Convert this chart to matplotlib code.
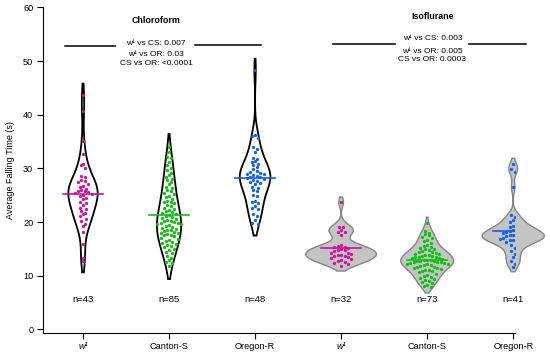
import numpy as np
import matplotlib.pyplot as plt

plt.rcParams['font.family'] = ['Liberation Sans', 'DejaVu Sans']

# falling times (s)
chl_w1 = [43.6, 40.6, 35.1, 32.6, 30.8, 30.6, 30.1, 28.6, 28.3, 27.9, 27.6, 27.4, 27.1,
          26.8, 26.5, 26.2, 26.0, 25.8, 25.7, 25.5, 25.4, 25.3, 25.1, 24.9, 24.5, 24.2,
          23.8, 23.5, 23.1, 22.7, 22.4, 22.0, 21.7, 21.4, 21.1, 20.5, 20.1, 19.7, 19.2,
          18.1, 15.9, 13.2, 12.8]
chl_cs = [34.0, 33.0, 32.2, 31.9, 31.2, 30.6, 30.0, 29.7, 29.2, 28.8, 28.4, 28.1, 27.8,
          27.4, 27.0, 26.6, 26.3, 26.0, 25.7, 25.4, 25.2, 24.9, 24.6, 24.3, 24.0, 23.8,
          23.7, 23.5, 23.2, 23.0, 22.7, 22.4, 22.2, 22.0, 21.9, 21.7, 21.5, 21.3, 21.2,
          21.0, 20.8, 20.6, 20.4, 20.2, 20.1, 20.0, 19.9, 19.8, 19.7, 19.6, 19.4, 19.3,
          19.1, 18.9, 18.7, 18.6, 18.5, 18.4, 18.2, 18.0, 17.9, 17.7, 17.6, 17.5, 17.3,
          17.1, 16.9, 16.7, 16.5, 16.3, 16.1, 15.9, 15.7, 15.5, 15.3, 15.0, 14.8, 14.5,
          14.2, 13.6, 13.2, 12.9, 12.6, 12.3, 11.8]
chl_or = [48.3, 36.3, 36.1, 35.6, 34.0, 33.6, 33.1, 32.0, 31.8, 31.4, 31.2, 30.9, 30.6,
          30.3, 29.8, 29.5, 29.3, 29.1, 29.0, 28.9, 28.7, 28.5, 28.4, 28.3, 28.2, 28.1,
          27.8, 27.6, 27.4, 27.2, 27.0, 26.6, 26.3, 26.0, 25.7, 25.1, 24.9, 24.0, 23.8,
          23.6, 23.0, 22.7, 22.5, 21.4, 21.1, 20.4, 19.9, 19.6]
iso_w1 = [23.7, 19.1, 19.0, 18.6, 18.2, 18.1, 17.6, 15.8, 15.6, 15.4, 15.3, 15.2, 14.9,
          14.8, 14.7, 14.6, 14.3, 14.2, 14.1, 13.9, 13.8, 13.7, 13.6, 13.4, 13.3, 13.1,
          12.9, 12.8, 12.6, 12.4, 12.2, 11.8]
iso_cs = [19.8, 18.3, 18.0, 17.7, 17.5, 17.2, 17.0, 16.7, 16.4, 16.0, 15.8, 15.6, 15.4,
          15.2, 15.0, 14.9, 14.8, 14.6, 14.5, 14.4, 14.2, 14.1, 14.0, 13.9, 13.8, 13.7,
          13.6, 13.5, 13.5, 13.4, 13.3, 13.2, 13.1, 13.0, 13.0, 12.9, 12.8, 12.8, 12.7,
          12.6, 12.6, 12.5, 12.4, 12.3, 12.2, 12.2, 12.1, 12.0, 11.9, 11.8, 11.7, 11.6,
          11.5, 11.4, 11.3, 11.1, 11.0, 10.9, 10.8, 10.6, 10.4, 10.2, 10.0, 9.8, 9.6,
          9.4, 9.2, 9.0, 8.8, 8.6, 8.3, 8.1, 7.9]
iso_or = [30.9, 29.8, 29.4, 26.5, 21.3, 21.0, 20.4, 20.0, 19.6, 19.3, 19.0, 18.8, 18.6,
          18.4, 18.3, 18.2, 18.0, 17.9, 17.8, 17.6, 17.5, 17.4, 17.3, 17.2, 17.1, 17.0,
          16.9, 16.8, 16.7, 16.6, 16.5, 16.3, 16.0, 15.7, 15.2, 14.6, 14.0, 13.4, 12.8,
          12.2, 11.7]

groups = [chl_w1, chl_cs, chl_or, iso_w1, iso_cs, iso_or]
labels = ['w¹', 'Canton-S', 'Oregon-R', 'w¹', 'Canton-S', 'Oregon-R']
colors = ['#d0109c', '#10c010', '#1060f0'] * 2

fig = plt.figure(figsize=(5.5, 3.56), dpi=100)
ax = fig.add_axes([0.0782, 0.0654, 0.858, 0.914])
ax.set_xlim(0.535, 6.02)
ax.set_ylim(-0.63, 60)

# pixels per data unit, used for the dot layout
xpx = 0.858 * 550 / (6.02 - 0.535)
ypx = 0.914 * 356 / 60.63


def kde(v, grid, bw):
    z = (grid[:, None] - v[None, :]) / bw
    return np.exp(-0.5 * z ** 2).sum(1) / (len(v) * bw * np.sqrt(2 * np.pi))


def dots(v, row=5.0, dx=3.4):
    # bin values into rows a few pixels high, spread each row sideways from the middle
    b = np.floor(v * ypx / row).astype(int)
    xs = np.zeros(len(v))
    for key in np.unique(b):
        idx = np.where(b == key)[0]
        n = len(idx)
        slots = (np.arange(n) - (n - 1) / 2) * dx
        slots = slots[np.argsort(np.abs(slots), kind='stable')]
        xs[idx] = slots
    return xs / xpx


shapes = []
for v in groups:
    v = np.array(v)
    q75, q25 = np.percentile(v, [75, 25])
    bw = 1.1 * min(v.std(ddof=1), (q75 - q25) / 1.34) * len(v) ** -0.2
    grid = np.linspace(v.min() - bw, v.max() + bw, 300)
    shapes.append((grid, kde(v, grid, bw)))
k = 0.41 / max(d.max() for g, d in shapes)

for i, v in enumerate(groups):
    pos = i + 1
    v = np.array(v)
    grid, dens = shapes[i]
    w = dens * k
    xs = np.concatenate([pos - w, (pos + w)[::-1]])
    ys = np.concatenate([grid, grid[::-1]])
    if i < 3:
        ax.fill(xs, ys, facecolor='white', edgecolor='black', lw=1.3, zorder=2, clip_on=False)
    else:
        ax.fill(xs, ys, facecolor='#c4c4c4', edgecolor='#858585', lw=1.0, zorder=2, clip_on=False)
    ax.scatter(pos + dots(v), v, s=5.5, color=colors[i], lw=0, zorder=3)
    m = v.mean()
    ax.plot([pos - 0.23, pos + 0.23], [m, m], color=colors[i], lw=1.2, zorder=4)
    ax.text(pos, 5.6, 'n=%d' % len(v), ha='center', va='center', fontsize=6.8)

# treatment headers and p-values
ax.text(1.85, 57.5, 'Chloroform', ha='center', va='center', fontsize=6.4, fontweight='bold')
ax.text(5.06, 58.2, 'Isoflurane', ha='center', va='center', fontsize=6.4, fontweight='bold')
ax.plot([0.79, 1.37], [52.85, 52.85], color='black', lw=1.1, clip_on=False)
ax.plot([2.30, 3.07], [52.95, 52.95], color='black', lw=1.1, clip_on=False)
ax.plot([3.90, 4.63], [53.15, 53.15], color='black', lw=1.1, clip_on=False)
ax.plot([5.49, 6.15], [53.25, 53.25], color='black', lw=1.1, clip_on=False)
for y, s in zip([53.3, 51.2, 49.5], ['w¹ vs CS: 0.007', 'w¹ vs OR: 0.03', 'CS vs OR: <0.0001']):
    ax.text(1.85, y, s, ha='center', va='center', fontsize=6.0)
for y, s in zip([54.1, 51.8, 50.2], ['w¹ vs CS: 0.003', 'w¹ vs OR: 0.005', 'CS vs OR: 0.0003']):
    ax.text(5.06, y, s, ha='center', va='center', fontsize=6.0)

ax.spines['top'].set_visible(False)
ax.spines['right'].set_visible(False)
ax.spines['left'].set_linewidth(0.8)
ax.spines['bottom'].set_linewidth(0.8)
ax.set_yticks(np.arange(0, 61, 10))
ax.set_xticks(np.arange(1, 7))
ax.set_xticklabels(labels)
for t in ax.get_xticklabels():
    if t.get_text().startswith('w'):
        t.set_fontstyle('italic')
ax.tick_params(axis='both', direction='out', length=4, width=0.8, labelsize=6.6, pad=3)
ax.set_ylabel('Average Falling Time (s)', fontsize=6.5, labelpad=6)

fig.savefig('out.png', dpi=100)
